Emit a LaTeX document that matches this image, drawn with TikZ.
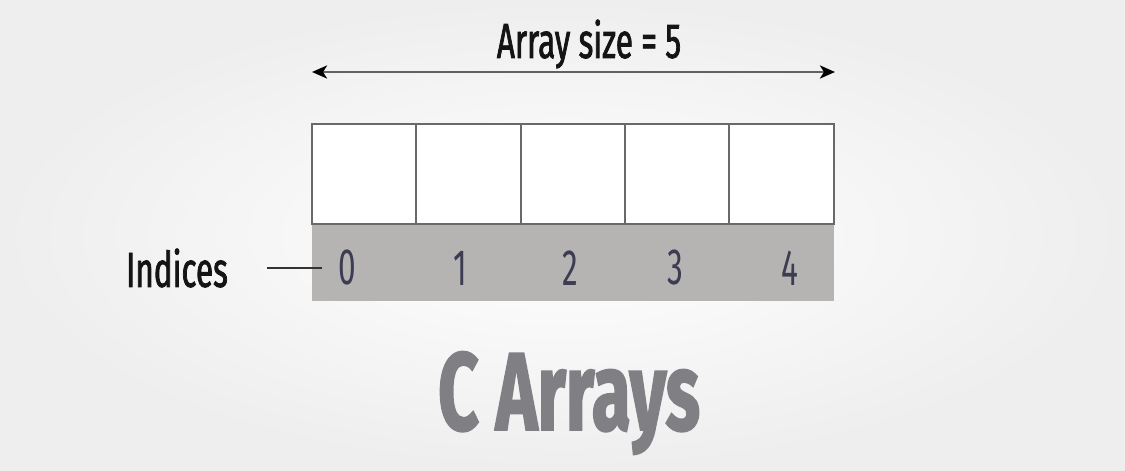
\documentclass[tikz,border=0pt]{standalone}
\usepackage{fontspec}
\setmainfont{Fira Sans}[FakeStretch=0.7]
\newfontfamily\narrowfont{Fira Sans}[FakeStretch=0.64, FakeBold=1.5]
\newfontfamily\digitfont{Fira Sans}[FakeStretch=0.62]
\usepackage{xcolor}
\usetikzlibrary{arrows, arrows.meta, positioning, calc}

\definecolor{cellline}{RGB}{105,105,105}
\definecolor{barfill}{RGB}{182,179,179}
\definecolor{digitcol}{RGB}{60,60,82}
\definecolor{titlecol}{RGB}{128,128,132}
\definecolor{bgedge}{RGB}{238,238,238}

\begin{document}
\begin{tikzpicture}[
    x=0.02cm, y=-0.02cm,
    cell/.style={rectangle, draw=cellline, line width=1.1pt, fill=white, minimum width=2.088cm, minimum height=2cm, inner sep=0pt, outer sep=0pt},
    indexbar/.style={rectangle, fill=barfill, minimum width=10.44cm, minimum height=1.52cm, inner sep=0pt, outer sep=0pt},
    digit/.style={text=digitcol, font=\digitfont\fontsize{29}{32}\selectfont},
    label/.style={text=black!92, font=\narrowfont\fontsize{28}{30}\selectfont},
    arrow/.style={{Stealth[length=0.3cm, width=0.26cm, inset=0.08cm, color=black]}-{Stealth[length=0.3cm, width=0.26cm, inset=0.08cm, color=black]}, line width=1.7pt, draw=black!62}
]
\useasboundingbox (0,0) rectangle (1125,470);

% Background
\shade[inner color=white, outer color=bgedge] (0,0) rectangle (1125,470);

% Array cells
\node[cell] (c0) at (364,174) {};
\node[cell, right=0pt of c0] (c1) {};
\node[cell, right=0pt of c1] (c2) {};
\node[cell, right=0pt of c2] (c3) {};
\node[cell, right=0pt of c3] (c4) {};

% Index bar
\node[indexbar, anchor=north west] (bar) at ([yshift=-0.55pt]c0.south west) {};
\node[digit] (d0) at (347,268) {0};
\node[digit] (d1) at (460,268) {1};
\node[digit] (d2) at (570,268) {2};
\node[digit] (d3) at (675,268) {3};
\node[digit] (d4) at (790,268) {4};

% Indices label
\node[label, anchor=east] (ind) at (234,268) {Indices};
\coordinate (tick) at (322,268);
\draw[line width=0.7pt, black!80] ([xshift=0.66cm]ind.east) -- (tick);

% Size arrow
\coordinate (aL) at (312,72);
\coordinate (aR) at (835,72);
\draw[arrow] (aL) -- (aR);
\node[label] (size) at (589,44) {Array size = 5};

% Title
\node[text=titlecol, font=\narrowfont\fontsize{63}{66}\selectfont\bfseries] (title) at (569,403) {C Arrays};

\end{tikzpicture}
\end{document}
